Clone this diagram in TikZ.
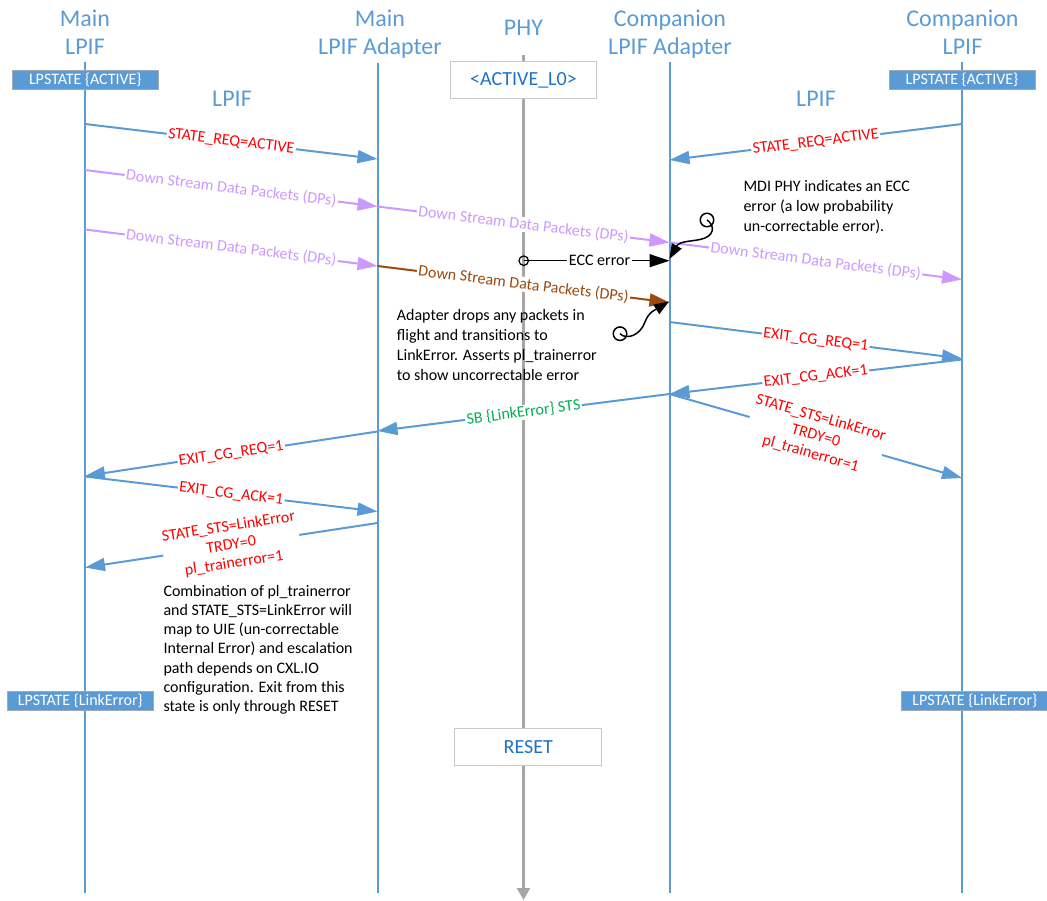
\documentclass[tikz,border=0pt]{standalone}
\usepackage{fontspec}
\setmainfont{Carlito}
\usetikzlibrary{arrows.meta}

\definecolor{lblue}{RGB}{91,155,213}
\definecolor{lviolet}{RGB}{204,153,255}
\definecolor{dpbrown}{RGB}{156,74,14}
\definecolor{sbgreen}{RGB}{0,176,80}
\definecolor{phygray}{RGB}{166,166,166}
\definecolor{boxtext}{RGB}{30,115,200}
\definecolor{boxedge}{RGB}{200,200,200}
\definecolor{stateedge}{RGB}{160,170,180}

\newcommand\fsz[2]{\fontsize{#1}{#2}\selectfont}

\begin{document}
\begin{tikzpicture}[x=1pt,y=-1pt,
  head/.style={text=lblue, font=\fsz{24}{28}, align=center, inner sep=0pt},
  lifeline/.style={draw=lblue, line width=2pt},
  phyline/.style={draw=phygray, line width=2.3pt, -{Triangle[length=12pt,width=13pt]}},
  statebox/.style={fill=lblue, draw=stateedge, line width=0.8pt, text=white,
    font=\fsz{16}{18}, inner sep=0pt, minimum width=146pt, minimum height=19pt},
  phybox/.style={fill=white, draw=boxedge, line width=1pt, text=boxtext,
    font=\fsz{20}{24}, inner sep=0pt, minimum width=146.7pt, minimum height=37pt},
  msg/.style={line width=2pt, -{Triangle[length=20pt,width=13pt]}},
  bmsg/.style={msg, draw=lblue},
  pmsg/.style={msg, draw=lviolet},
  lbl/.style={midway, sloped, fill=white, inner xsep=1.5pt, inner ysep=0.5pt,
    font=\fsz{16}{18.5}, align=center},
  note/.style={anchor=north west, inner sep=0pt, align=left, font=\fsz{16}{20}},
  squig/.style={draw=black, line width=1.5pt, -{Triangle[length=15pt,width=11pt]}},
  ring/.style={circle, draw=black, inner sep=0pt}
]
\useasboundingbox (0,0) rectangle (1047,901);

% ---- participants ----
\node[head, anchor=north] (hA) at (85,10.2) {Main\\LPIF};
\node[head, anchor=north] (hB) at (380,10.2) {Main\\LPIF Adapter};
\node[head, anchor=north] (hP) at (523.5,19.5) {PHY};
\node[head, anchor=north] (hC) at (670,10.2) {Companion\\LPIF Adapter};
\node[head, anchor=north] (hD) at (962.5,10.2) {Companion\\LPIF};

\node[text=lblue, font=\fsz{24}{28}, anchor=base, inner sep=0pt] (lpifL) at (232,106.5) {LPIF};
\node[text=lblue, font=\fsz{24}{28}, anchor=base, inner sep=0pt] (lpifR) at (816,106.5) {LPIF};

% ---- lifelines ----
\coordinate (A0) at (85,61.7);   \coordinate (A1) at (85,893);
\coordinate (B0) at (377.5,63);  \coordinate (B1) at (377.5,893);
\coordinate (C0) at (669.5,61.7);\coordinate (C1) at (669.5,893);
\coordinate (D0) at (962,61.7);  \coordinate (D1) at (962,893);
\coordinate (P0) at (523.5,55);  \coordinate (P1) at (523.5,900);
\draw[lifeline] (A0) -- (A1);
\draw[lifeline] (B0) -- (B1);
\draw[lifeline] (C0) -- (C1);
\draw[lifeline] (D0) -- (D1);
\draw[phyline] (P0) -- (P1);

% ---- state boxes ----
\node[statebox] (sA) at (85.3,80.2) {LPSTATE \{ACTIVE\}};
\node[statebox] (sD) at (962,80.3) {LPSTATE \{ACTIVE\}};
\node[statebox, minimum height=18.3pt] (eA) at (80.3,701) {LPSTATE \{LinkError\}};
\node[statebox, minimum height=18.3pt] (eD) at (974.8,701) {LPSTATE \{LinkError\}};
\node[phybox] (act) at (523.5,80.3) {<ACTIVE\_L0>};
\node[phybox] (rst) at (528.3,746.7) {RESET};

% ---- message end points ----
\coordinate (m1a) at (85,124);     \coordinate (m1b) at (377.5,159);
\coordinate (m2a) at (962,124);    \coordinate (m2b) at (669.5,160);
\coordinate (m3a) at (85,170);     \coordinate (m3b) at (377.5,206.5);
\coordinate (m4b) at (669.5,242.5);
\coordinate (m5b) at (962,279.5);
\coordinate (m6a) at (85,229.5);   \coordinate (m6b) at (377.5,266);
\coordinate (m7b) at (669.5,302.5);
\coordinate (m8a) at (669.5,322);  \coordinate (m8b) at (962,358.5);
\coordinate (m9a) at (962,359.5);  \coordinate (m9b) at (669.5,394);
\coordinate (m10b) at (962,478);
\coordinate (m11b) at (377.5,431);
\coordinate (m12a) at (377.5,431.5); \coordinate (m12b) at (85,476);
\coordinate (m13a) at (85,476.5);  \coordinate (m13b) at (377.5,511.5);
\coordinate (m14a) at (377.5,523); \coordinate (m14b) at (85,567.5);

% ---- messages ----
\draw[bmsg] (m1a) -- node[lbl, text=red] {STATE\_REQ=ACTIVE} (m1b);
\draw[bmsg] (m2a) -- node[lbl, text=red] {STATE\_REQ=ACTIVE} (m2b);
\draw[pmsg] (m3a) -- node[lbl, text=lviolet] {Down Stream Data Packets (DPs)} (m3b);
\draw[pmsg] (m3b) -- node[lbl, text=lviolet] {Down Stream Data Packets (DPs)} (m4b);
\draw[pmsg] (m4b) -- node[lbl, text=lviolet] {Down Stream Data Packets (DPs)} (m5b);
\draw[pmsg] (m6a) -- node[lbl, text=lviolet] {Down Stream Data Packets (DPs)} (m6b);
\draw[msg, draw=dpbrown] (m6b) -- node[lbl, text=dpbrown] {Down Stream Data Packets (DPs)} (m7b);

% ECC error indication from the PHY
\node[ring, line width=1.2pt, minimum size=9.5pt] (e0) at (523.7,260.7) {};
\coordinate (e1) at (669.5,260.7);
\draw[msg, line width=1.5pt, draw=black] (e0.center) -- node[lbl, pos=0.52] {ECC error} (e1);

\draw[bmsg] (m8a) -- node[lbl, text=red] {EXIT\_CG\_REQ=1} (m8b);
\draw[bmsg] (m9a) -- node[lbl, text=red] {EXIT\_CG\_ACK=1} (m9b);
\draw[bmsg] (m9b) -- node[lbl, text=red] {STATE\_STS=LinkError\\TRDY=0\\pl\_trainerror=1} (m10b);
\draw[bmsg] (m9b) -- node[lbl, text=sbgreen] {SB \{LinkError\} STS} (m11b);
\draw[bmsg] (m12a) -- node[lbl, text=red] {EXIT\_CG\_REQ=1} (m12b);
\draw[bmsg] (m13a) -- node[lbl, text=red] {EXIT\_CG\_ACK=1} (m13b);
\draw[bmsg] (m14a) -- node[lbl, text=red] {STATE\_STS=LinkError\\TRDY=0\\pl\_trainerror=1} (m14b);

% ---- callouts ----
\node[ring, line width=1.5pt, minimum size=13.5pt] (q1) at (707,220) {};
\coordinate (t1) at (669.5,259);
\draw[squig] (q1.center) .. controls (713,224) and (716,233) .. (705,238)
  .. controls (695,242) and (680,240) .. (t1);

\node[ring, line width=1.5pt, minimum size=13.5pt] (q2) at (620,333.7) {};
\coordinate (t2) at (669,301.5);
\draw[squig] (q2.center) .. controls (626,340) and (640,336) .. (645,322)
  .. controls (649,311) and (657,309) .. (t2);

% ---- notes ----
\node[note] (n1) at (743.3,180.5) {MDI PHY indicates an ECC\\error (a low probability\\un-correctable error).};
\node[note] (n2) at (396.7,309.5) {Adapter drops any packets in\\flight and transitions to\\LinkError. Asserts pl\_trainerror\\to show uncorrectable error};
\node[note, font=\fsz{16}{19.2}] (n3) at (163.3,585) {Combination of pl\_trainerror\\and STATE\_STS=LinkError will\\map to UIE (un-correctable\\Internal Error) and escalation\\path depends on CXL.IO\\configuration. Exit from this\\state is only through RESET};
\end{tikzpicture}
\end{document}
